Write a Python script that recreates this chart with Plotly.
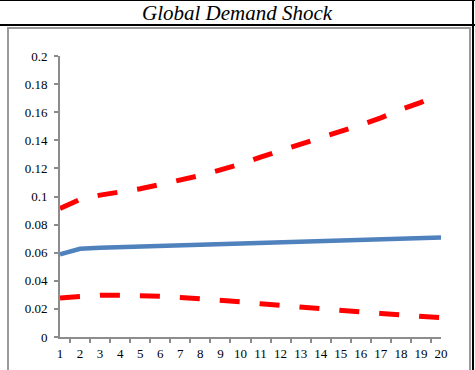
import plotly.graph_objects as go

# horizon (periods) and impulse response values
periods = [str(i) for i in range(1, 21)]
median = [0.0588, 0.0628, 0.0636, 0.0640, 0.0645, 0.0651, 0.0653, 0.0657, 0.0661, 0.0666,
          0.0670, 0.0673, 0.0677, 0.0681, 0.0686, 0.0690, 0.0694, 0.0698, 0.0703, 0.0709]
upper = [0.0915, 0.0980, 0.1010, 0.1030, 0.1055, 0.1085, 0.1115, 0.1150, 0.1190, 0.1230,
         0.1280, 0.1325, 0.1370, 0.1415, 0.1460, 0.1510, 0.1560, 0.1620, 0.1670, 0.1735]
lower = [0.0278, 0.0292, 0.0298, 0.0298, 0.0296, 0.0290, 0.0282, 0.0273, 0.0262, 0.0250,
         0.0237, 0.0224, 0.0211, 0.0199, 0.0188, 0.0178, 0.0168, 0.0158, 0.0148, 0.0137]
y_ticks = [0, 0.02, 0.04, 0.06, 0.08, 0.1, 0.12, 0.14, 0.16, 0.18, 0.2]
y_labels = ["0", "0.02", "0.04", "0.06", "0.08", "0.1", "0.12", "0.14", "0.16", "0.18", "0.2"]

W, H = 475, 370
L, R, T, B = 60, 441, 56, 337  # plot area in pixels


def px(x):
    return (x - L) / (R - L)


def py(y):
    return (B - y) / (B - T)


fig = go.Figure()
fig.add_trace(go.Scatter(x=periods, y=upper, mode="lines",
                         line=dict(color="#ff0000", width=5, dash="20px,20px")))
fig.add_trace(go.Scatter(x=periods, y=median, mode="lines",
                         line=dict(color="#4f81bd", width=4.5)))
fig.add_trace(go.Scatter(x=periods, y=lower, mode="lines",
                         line=dict(color="#ff0000", width=5, dash="20px,20px")))

axis_font = dict(family="Liberation Serif", size=13, color="black")
fig.update_xaxes(type="category", tickson="boundaries", ticks="outside", ticklen=4,
                 tickcolor="#8c8c8c", tickwidth=1.5, showline=True, linecolor="#8c8c8c",
                 linewidth=2, showgrid=False, tickfont=axis_font, zeroline=False,
                 tickangle=0, automargin=False, ticklabelstandoff=3)
fig.update_yaxes(range=[0, 0.2], tickvals=y_ticks, ticktext=y_labels, ticks="outside",
                 ticklen=4, tickcolor="#8c8c8c", tickwidth=1.5, showline=True,
                 linecolor="#8c8c8c", linewidth=2, showgrid=False, zeroline=False,
                 tickfont=axis_font, automargin=False, ticklabelstandoff=4)

# table-like frame around the chart
shapes = [
    dict(type="line", x0=px(0), x1=px(W), y0=py(0.5), y1=py(0.5), line=dict(color="black", width=1)),
    dict(type="line", x0=px(0), x1=px(W), y0=py(25), y1=py(25), line=dict(color="black", width=2)),
    dict(type="line", x0=px(473), x1=px(473), y0=py(0), y1=py(H), line=dict(color="black", width=2)),
    dict(type="rect", x0=px(8), x1=px(470), y0=py(28), y1=py(H + 10),
         line=dict(color="#9a9a9a", width=2)),
]
for s in shapes:
    s.update(xref="paper", yref="paper", layer="above")

fig.update_layout(
    width=W, height=H, margin=dict(l=L, r=W - R, t=T, b=H - B, autoexpand=False),
    paper_bgcolor="white", plot_bgcolor="white", showlegend=False,
    shapes=shapes,
    annotations=[dict(text="<i>Global Demand Shock</i>", x=px(237), y=py(13),
                      xref="paper", yref="paper", showarrow=False, yanchor="middle",
                      font=dict(family="Liberation Serif", size=21, color="black"))],
)

# drop the default page margin so the figure sits at the window's corner
fig.write_html("out.html", config={"displayModeBar": False},
               post_script="document.body.style.margin='0';")
